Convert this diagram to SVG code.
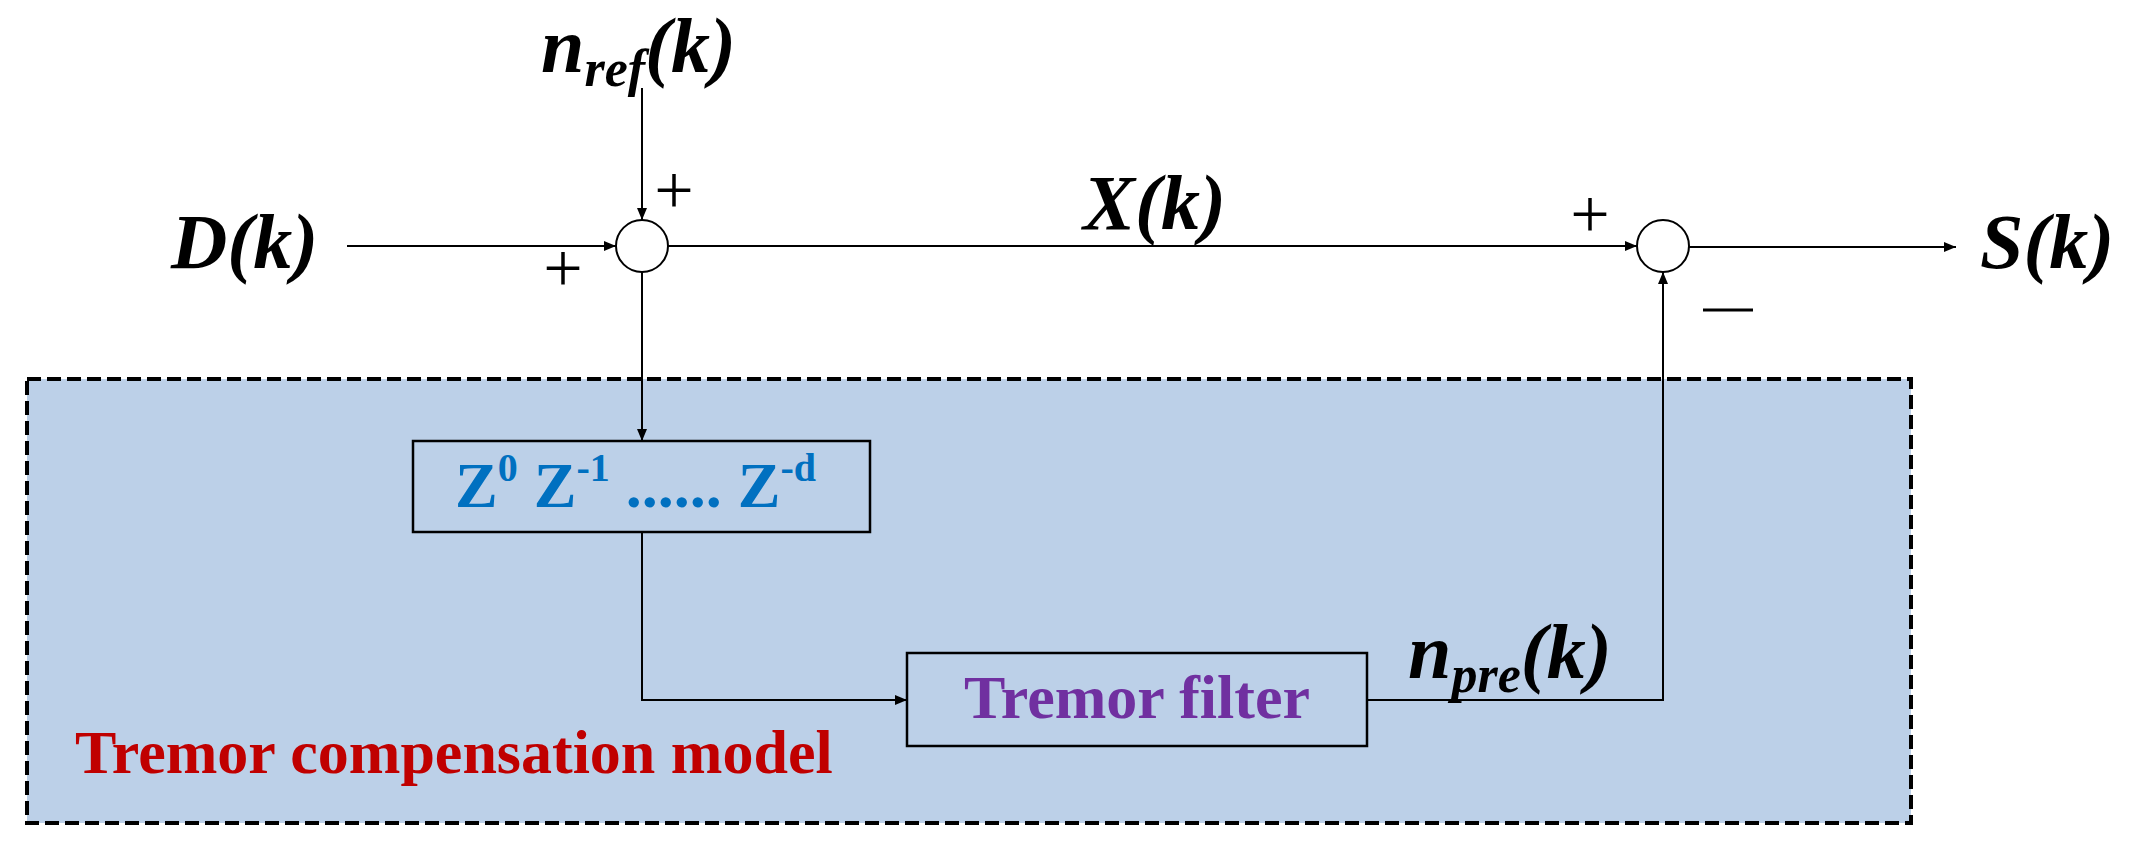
<svg xmlns="http://www.w3.org/2000/svg" width="2146" height="866" viewBox="0 0 2146 866">
<defs>
<marker id="ar" markerWidth="12" markerHeight="10" refX="12" refY="5" orient="auto" markerUnits="userSpaceOnUse"><path d="M0,0 L12,5 L0,10 z" fill="#000"/></marker>
<style>
.lbl{font-family:"Liberation Serif",serif;font-weight:bold;font-style:italic;font-size:78px;fill:#000}
.sgn{font-family:"Liberation Serif",serif;font-size:70px;fill:#000;text-anchor:middle}
.ln{stroke:#000;stroke-width:2;fill:none}
.box{fill:#BCD0E8;stroke:#000;stroke-width:2.5}
</style>
</defs>
<rect width="2146" height="866" fill="#fff"/>
<g id="model">
<rect x="27" y="379" width="1884" height="444" fill="#BCD0E8" stroke="#000" stroke-width="4" stroke-dasharray="14,6"/>
<text x="75" y="773" font-family="Liberation Serif,serif" font-weight="bold" font-size="62" fill="#C00000">Tremor compensation model</text>
</g>
<g id="sum1"><ellipse cx="642" cy="246" rx="26" ry="26" fill="#fff" stroke="#000" stroke-width="2"/>
<text class="sgn" x="674" y="214">+</text><text class="sgn" x="563" y="292">+</text></g>
<g id="sum2"><ellipse cx="1663" cy="246" rx="26" ry="26" fill="#fff" stroke="#000" stroke-width="2"/>
<text class="sgn" x="1590" y="238">+</text><line x1="1703" y1="310" x2="1753" y2="310" stroke="#000" stroke-width="3"/></g>
<g id="delay"><rect class="box" x="413" y="441" width="457" height="91"/>
<text x="455" y="507" font-family="Liberation Serif,serif" font-weight="bold" font-size="64" fill="#0070C0">Z<tspan dy="-26" font-size="40">0</tspan><tspan dy="26"> Z</tspan><tspan dy="-26" font-size="40">-1</tspan><tspan dy="26"> ...... Z</tspan><tspan dy="-26" font-size="40">-d</tspan></text></g>
<g id="filter"><rect class="box" x="907" y="653" width="460" height="93"/>
<text x="1137" y="718" text-anchor="middle" font-family="Liberation Serif,serif" font-weight="bold" font-size="62" fill="#7030A0">Tremor filter</text></g>
<g id="labels">
<text class="lbl" x="171" y="268">D(k)</text>
<text class="lbl" x="541" y="72">n<tspan dy="14" font-size="52">ref</tspan><tspan dy="-14">(k)</tspan></text>
<text class="lbl" x="1083" y="229">X(k)</text>
<text class="lbl" x="1980" y="268">S(k)</text>
<text class="lbl" x="1408" y="678">n<tspan dy="14" font-size="52">pre</tspan><tspan dy="-14">(k)</tspan></text>
</g>
<g id="connectors">
<line class="ln" x1="347" y1="246" x2="616" y2="246" marker-end="url(#ar)"/>
<line class="ln" x1="642" y1="88" x2="642" y2="220" marker-end="url(#ar)"/>
<line class="ln" x1="668" y1="246" x2="1637" y2="246" marker-end="url(#ar)"/>
<line class="ln" x1="1689" y1="247" x2="1956" y2="247" marker-end="url(#ar)"/>
<line class="ln" x1="642" y1="272" x2="642" y2="441" marker-end="url(#ar)"/>
<polyline class="ln" points="642,532 642,700 907,700" marker-end="url(#ar)"/>
<polyline class="ln" points="1367,700 1663,700 1663,272" marker-end="url(#ar)"/>
</g>
</svg>
